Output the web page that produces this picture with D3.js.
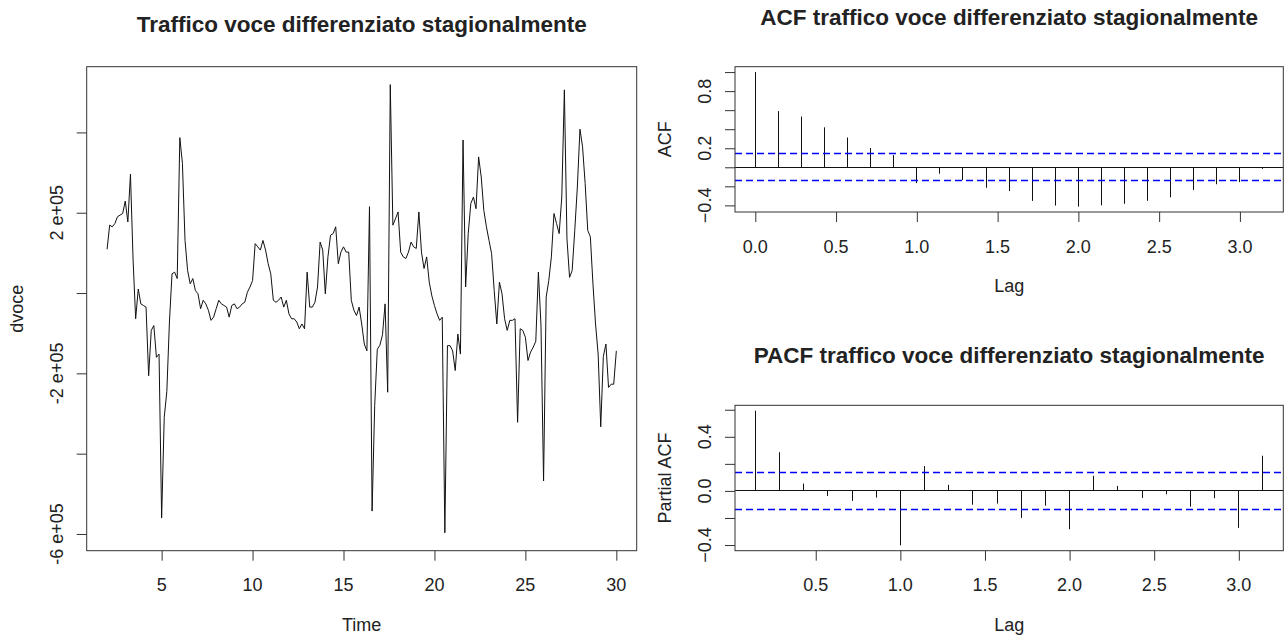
<!DOCTYPE html>
<html>
<head>
<meta charset="utf-8">
<script src="https://cdn.jsdelivr.net/npm/d3@7"></script>
<style>
  html, body { margin: 0; padding: 0; background: #fff; }
  svg { display: block; }
  text { font-family: "Liberation Sans", Arial, sans-serif; fill: #222; }
</style>
</head>
<body>
<svg id="chart" width="1286" height="639"></svg>
<script>
// Seasonally differenced voice traffic (frequency 7), starting at time 2
const tsStart = 2;
const tsFreq = 7;
const dvoce = [
  109000, 169000, 165000, 173000, 190000, 194000, 198000, 229000, 177000, 296000,
  85000, -64000, 10000, -27000, -31000, -35000, -206000, -93000, -81000, -160000,
  -152000, -560000, -310000, -245000, -72000, 48000, 52000, 36000, 387000, 323000,
  131000, 56000, 23000, 36000, 6000, -2000, -39000, -18000, -27000, -43000,
  -68000, -60000, -39000, -18000, -27000, -31000, -35000, -60000, -31000, -27000,
  -39000, -35000, -27000, -23000, 2000, 15000, 31000, 123000, 115000, 107000,
  131000, 107000, 73000, 48000, -18000, -23000, -18000, -10000, -35000, -18000,
  -52000, -64000, -64000, -72000, -89000, -77000, -89000, 52000, -35000, -35000,
  -23000, 15000, 127000, 107000, -2000, 90000, 144000, 148000, 165000, 73000,
  102000, 115000, 102000, 102000, -18000, -43000, -56000, -35000, -77000, -127000,
  -144000, 215000, -543000, -280000, -140000, -130000, -104000, -27000, -247000, 519000,
  169000, 185000, 202000, 102000, 90000, 86000, 102000, 127000, 115000, 111000,
  202000, 102000, 61000, 90000, 27000, -7000, -31000, -52000, -68000, -60000,
  -597000, -131000, -131000, -144000, -193000, -102000, -152000, 381000, 15000, 148000,
  223000, 239000, 210000, 339000, 289000, 206000, 165000, 131000, 98000, 6000,
  -77000, 27000, -2000, -64000, -93000, -68000, -68000, -64000, -322000, -89000,
  -93000, -110000, -168000, -147000, -135000, -120000, 52000, -80000, -468000, -10000,
  31000, 90000, 198000, 173000, 148000, 239000, 506000, 135000, 39000, 56000,
  156000, 264000, 408000, 364000, 273000, 156000, 140000, 23000, -77000, -152000,
  -333000, -158000, -127000, -235000, -227000, -227000, -144000
];
const tsXTicks = [5, 10, 15, 20, 25, 30];
const tsYTicks = [-600000, -400000, -200000, 0, 200000, 400000];
const tsYLabels = { "200000": "2 e+05", "-200000": "-2 e+05", "-600000": "-6 e+05" };

// Autocorrelations, lags 0..22 (in seasonal periods)
const acfValues = [
  1.0, 0.59, 0.533, 0.42, 0.313, 0.202, 0.128, -0.166, -0.067, -0.134,
  -0.215, -0.25, -0.353, -0.402, -0.413, -0.40, -0.383, -0.352, -0.315, -0.238,
  -0.178, -0.155, -0.016
];
// Partial autocorrelations, lags 1..22
const pacfValues = [
  0.593, 0.286, 0.054, -0.037, -0.074, -0.049, -0.402, 0.184, 0.045, -0.102,
  -0.094, -0.199, -0.109, -0.283, 0.112, 0.037, -0.052, -0.025, -0.116, -0.054,
  -0.273, 0.260
];
const lagTicks = [0.0, 0.5, 1.0, 1.5, 2.0, 2.5, 3.0];
const pacfLagTicks = [0.5, 1.0, 1.5, 2.0, 2.5, 3.0];
const acfYTicks = [-0.4, -0.2, 0.0, 0.2, 0.4, 0.6, 0.8, 1.0];
const acfYLabels = [-0.4, 0.2, 0.8];
const pacfYTicks = [-0.4, -0.2, 0.0, 0.2, 0.4, 0.6];
const pacfYLabels = [-0.4, 0.0, 0.4];

const titles = {
  ts: "Traffico voce differenziato stagionalmente",
  acf: "ACF traffico voce differenziato stagionalmente",
  pacf: "PACF traffico voce differenziato stagionalmente"
};

const svg = d3.select("#chart");
const TICK = 10, TICK_FONT = 18, TITLE_FONT = 22.5;
const BOX = "#333";
// snap to a pixel centre so 1px strokes stay sharp
const px = v => Math.round(v - 0.5) + 0.5;

// pad a data extent by 4% on each side, like R's default axis style
function padded(lo, hi) {
  const p = (hi - lo) * 0.04;
  return [lo - p, hi + p];
}

function panel(box, xs, ys, opts) {
  const g = svg.append("g");
  // x ticks
  g.append("g")
    .attr("transform", `translate(0,${box.bottom})`)
    .call(d3.axisBottom(xs).tickValues(opts.xTicks).tickSize(TICK).tickFormat(""))
    .call(a => { a.select(".domain").remove(); a.selectAll("line").attr("stroke", BOX); });
  g.selectAll(".xl").data(opts.xTicks).enter().append("text")
    .attr("x", d => xs(d)).attr("y", box.bottom + 40.5)
    .attr("text-anchor", "middle").attr("font-size", TICK_FONT)
    .text(opts.xFormat);
  // y ticks
  g.append("g")
    .attr("transform", `translate(${box.left},0)`)
    .call(d3.axisLeft(ys).tickValues(opts.yTicks).tickSize(TICK).tickFormat(""))
    .call(a => { a.select(".domain").remove(); a.selectAll("line").attr("stroke", BOX); });
  g.selectAll(".yl").data(opts.yLabels).enter().append("text")
    .attr("transform", d => `translate(${box.left - 23.6},${ys(d.v)}) rotate(-90)`)
    .attr("text-anchor", "middle").attr("font-size", TICK_FONT)
    .text(d => d.t);
  // axis titles
  g.append("text")
    .attr("x", (box.left + box.right) / 2).attr("y", box.bottom + 80)
    .attr("text-anchor", "middle").attr("font-size", TICK_FONT)
    .text(opts.xTitle);
  g.append("text")
    .attr("transform", `translate(${box.left - 63.6},${(box.top + box.bottom) / 2}) rotate(-90)`)
    .attr("text-anchor", "middle").attr("font-size", TICK_FONT)
    .text(opts.yTitle);
  // main title
  g.append("text")
    .attr("x", (box.left + box.right) / 2).attr("y", opts.titleY)
    .attr("text-anchor", "middle").attr("font-size", TITLE_FONT)
    .attr("font-weight", "bold").attr("fill", "#000")
    .text(opts.title);
  return g;
}

function drawBox(box) {
  svg.append("rect")
    .attr("x", box.left).attr("y", box.top)
    .attr("width", box.right - box.left).attr("height", box.bottom - box.top)
    .attr("fill", "none").attr("stroke", BOX).attr("stroke-width", 1);
}

// ---- time series panel ----
{
  const box = { left: 86.7, right: 636.7, top: 66.7, bottom: 550.7 };
  const times = dvoce.map((v, i) => tsStart + i / tsFreq);
  const xs = d3.scaleLinear().domain(padded(d3.min(times), d3.max(times))).range([box.left, box.right]);
  const ys = d3.scaleLinear().domain(padded(d3.min(dvoce), d3.max(dvoce))).range([box.bottom, box.top]);
  panel(box, xs, ys, {
    xTicks: tsXTicks, xFormat: d => d3.format("d")(d),
    yTicks: tsYTicks,
    yLabels: tsYTicks.filter(v => tsYLabels[v]).map(v => ({ v, t: tsYLabels[v] })),
    xTitle: "Time", yTitle: "dvoce", title: titles.ts, titleY: 32
  });
  const line = d3.line().x((d, i) => xs(times[i])).y(d => ys(d));
  svg.append("path").datum(dvoce)
    .attr("d", line).attr("fill", "none")
    .attr("stroke", "#111").attr("stroke-width", 1).attr("stroke-linejoin", "miter");
  drawBox(box);
}

// ---- correlogram panels ----
function correlogram(box, lags, vals, o) {
  const clim = 1.96 / Math.sqrt(dvoce.length);
  const xs = d3.scaleLinear().domain(padded(d3.min(lags), d3.max(lags))).range([box.left, box.right]);
  const yExt = o.withOne ? [Math.min(-clim, d3.min(vals)), Math.max(1, d3.max(vals))]
                         : [Math.min(-clim, d3.min(vals)), Math.max(clim, d3.max(vals))];
  const ys = d3.scaleLinear().domain(padded(yExt[0], yExt[1])).range([box.bottom, box.top]);
  panel(box, xs, ys, {
    xTicks: o.xTicks, xFormat: d => d3.format(".1f")(d),
    yTicks: o.yTicks,
    yLabels: o.yLabels.map(v => ({ v, t: d3.format(".1f")(v) })),
    xTitle: "Lag", yTitle: o.yTitle, title: o.title, titleY: o.titleY
  });
  const y0 = px(ys(0));
  // spikes
  svg.append("g").selectAll("line").data(vals).enter().append("line")
    .attr("x1", (d, i) => px(xs(lags[i]))).attr("x2", (d, i) => px(xs(lags[i])))
    .attr("y1", y0).attr("y2", d => ys(d))
    .attr("stroke", "#111").attr("stroke-width", 1);
  // zero line
  svg.append("line")
    .attr("x1", box.left).attr("x2", box.right)
    .attr("y1", y0).attr("y2", y0)
    .attr("stroke", "#111").attr("stroke-width", 1);
  // confidence bounds
  svg.append("g").selectAll("line").data([clim, -clim]).enter().append("line")
    .attr("x1", box.left).attr("x2", box.right)
    .attr("y1", d => px(ys(d))).attr("y2", d => px(ys(d)))
    .attr("stroke", "#0000ff").attr("stroke-width", 1.3)
    .attr("stroke-dasharray", "7,4");
  drawBox(box);
}

correlogram(
  { left: 735, right: 1283.3, top: 66.7, bottom: 212 },
  acfValues.map((v, i) => i / tsFreq), acfValues,
  { withOne: true, xTicks: lagTicks, yTicks: acfYTicks, yLabels: acfYLabels,
    yTitle: "ACF", title: titles.acf, titleY: 25 }
);
correlogram(
  { left: 735, right: 1283.3, top: 405.3, bottom: 550.7 },
  pacfValues.map((v, i) => (i + 1) / tsFreq), pacfValues,
  { withOne: false, xTicks: pacfLagTicks, yTicks: pacfYTicks, yLabels: pacfYLabels,
    yTitle: "Partial ACF", title: titles.pacf, titleY: 363.3 }
);
</script>
</body>
</html>
